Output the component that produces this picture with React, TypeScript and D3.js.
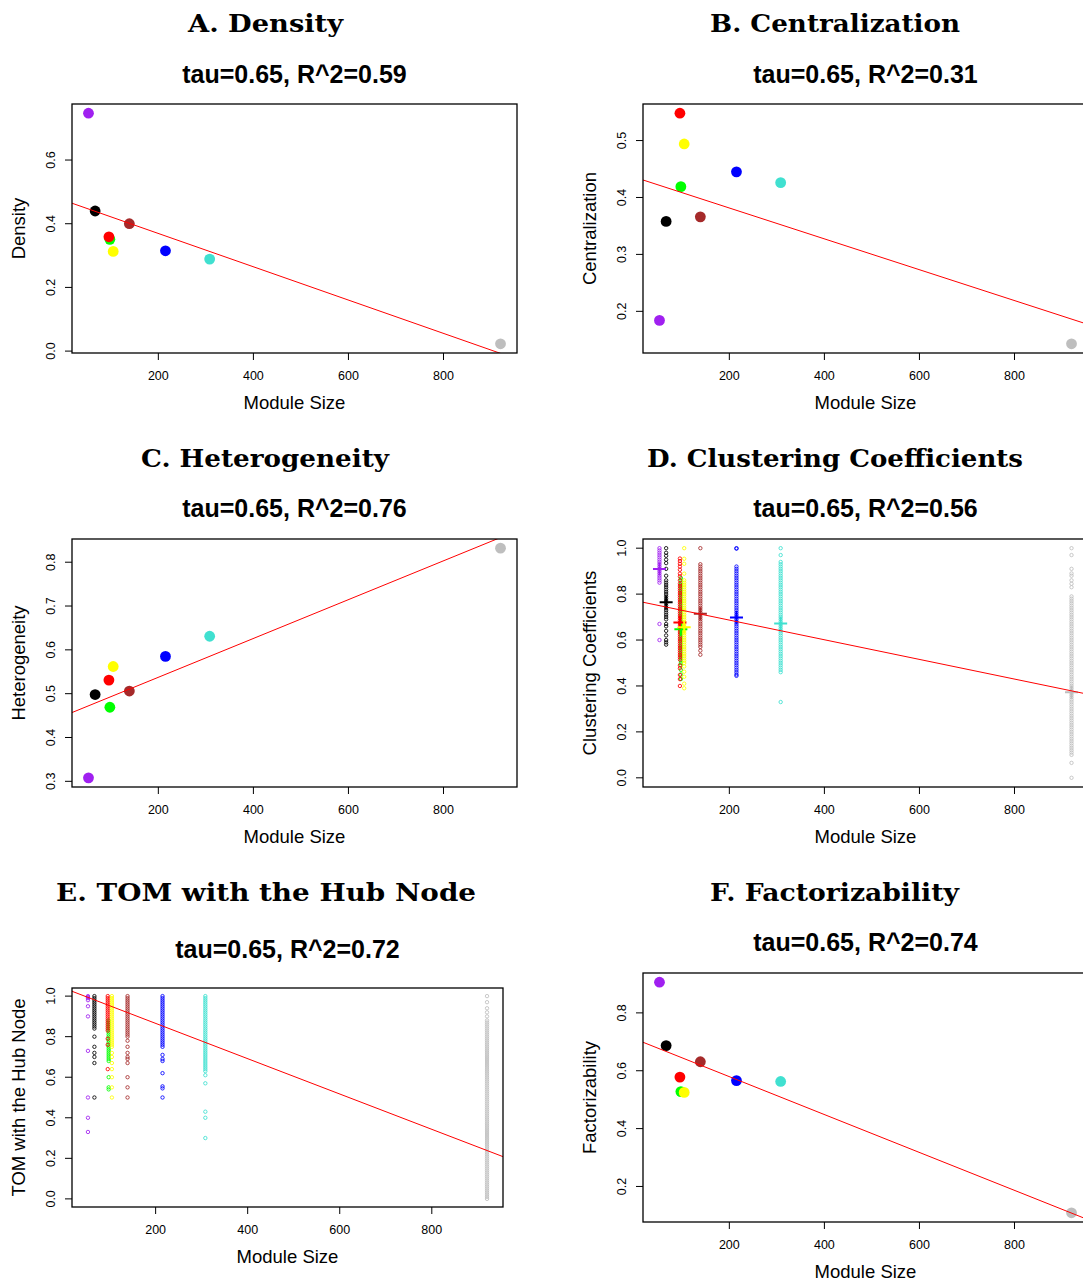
import React from 'react';
import * as d3 from 'd3';

const WIDTH = 1083;
const HEIGHT = 1283;

// modules, listed in the order they get drawn
const moduleNames = ['purple', 'black', 'green', 'red', 'yellow', 'brown', 'blue', 'turquoise', 'grey'];
const moduleColors = ['#A020F0', '#000000', '#00FF00', '#FF0000', '#FFFF00', '#A52A2A', '#0000FF', '#40E0D0', '#BEBEBE'];
const moduleSizes = [53, 67, 98, 96, 105, 139, 215, 308, 920];

// module level statistics
const density = [0.747, 0.44, 0.351, 0.359, 0.313, 0.4, 0.315, 0.289, 0.023];
const centralization = [0.184, 0.358, 0.419, 0.548, 0.494, 0.366, 0.445, 0.426, 0.143];
const heterogeneity = [0.308, 0.498, 0.469, 0.531, 0.562, 0.506, 0.585, 0.631, 0.832];
const factorizability = [0.906, 0.687, 0.528, 0.578, 0.525, 0.631, 0.566, 0.563, 0.109];
const clusteringMeans = [0.909, 0.765, 0.647, 0.676, 0.656, 0.715, 0.698, 0.672, 0.373];

// node level clustering coefficients (distinct visible positions per module)
const ccPurple = [1.0, 0.99, 0.98, 0.97, 0.96, 0.95, 0.94, 0.93, 0.92, 0.91, 0.9, 0.89, 0.88, 0.87, 0.86, 0.85, 0.67, 0.6];
const ccBlack = [1.0, 0.98, 0.967, 0.95, 0.935, 0.91, 0.88, 0.86, 0.85, 0.84, 0.83, 0.82, 0.81, 0.8, 0.79, 0.78, 0.77, 0.76,
  0.75, 0.74, 0.73, 0.72, 0.71, 0.7, 0.69, 0.67, 0.66, 0.64, 0.62, 0.6, 0.59, 0.58];
const ccGreen = [0.87, 0.86, 0.85, 0.84, 0.83, 0.82, 0.81, 0.8, 0.79, 0.78, 0.77, 0.76, 0.75, 0.74, 0.73, 0.72, 0.71, 0.7,
  0.69, 0.68, 0.67, 0.66, 0.65, 0.64, 0.63, 0.62, 0.61, 0.6, 0.59, 0.58, 0.57, 0.56, 0.55, 0.54, 0.53, 0.52, 0.51, 0.5,
  0.49, 0.47, 0.45, 0.43];
const ccRed = [0.955, 0.944, 0.932, 0.92, 0.906, 0.889, 0.877, 0.86, 0.845, 0.835, 0.825, 0.815, 0.805, 0.795, 0.785,
  0.775, 0.765, 0.755, 0.745, 0.735, 0.725, 0.715, 0.705, 0.695, 0.685, 0.675, 0.665, 0.655, 0.645, 0.635, 0.625, 0.615,
  0.605, 0.595, 0.585, 0.575, 0.565, 0.555, 0.545, 0.535, 0.525, 0.515, 0.49, 0.477, 0.448, 0.43, 0.4];
const ccYellow = [1.0, 0.954, 0.932, 0.889, 0.86, 0.85, 0.84, 0.83, 0.82, 0.81, 0.8, 0.79, 0.78, 0.77, 0.76, 0.75, 0.74,
  0.73, 0.72, 0.71, 0.7, 0.69, 0.68, 0.67, 0.66, 0.65, 0.64, 0.63, 0.62, 0.61, 0.6, 0.59, 0.58, 0.57, 0.56, 0.55, 0.54,
  0.53, 0.52, 0.51, 0.5, 0.485, 0.462, 0.44, 0.41, 0.39];
const ccBrown = [1.0, 0.93, 0.92, 0.91, 0.9, 0.89, 0.88, 0.87, 0.86, 0.85, 0.84, 0.83, 0.82, 0.81, 0.8, 0.79, 0.78, 0.77,
  0.76, 0.75, 0.74, 0.73, 0.72, 0.71, 0.7, 0.69, 0.68, 0.67, 0.66, 0.65, 0.64, 0.63, 0.62, 0.61, 0.6, 0.59, 0.58, 0.57,
  0.554, 0.536];
const ccBlue = [1.0, 0.998, 0.92, 0.91, 0.9, 0.89, 0.88, 0.87, 0.86, 0.85, 0.84, 0.83, 0.82, 0.81, 0.8, 0.79, 0.78, 0.77,
  0.76, 0.75, 0.74, 0.73, 0.72, 0.71, 0.7, 0.69, 0.68, 0.67, 0.66, 0.65, 0.64, 0.63, 0.62, 0.61, 0.6, 0.59, 0.58, 0.57,
  0.56, 0.55, 0.54, 0.53, 0.52, 0.51, 0.5, 0.49, 0.48, 0.47, 0.46, 0.45, 0.444];
const ccTurquoise = [1.0, 0.97, 0.94, 0.93, 0.92, 0.91, 0.9, 0.89, 0.88, 0.87, 0.86, 0.85, 0.84, 0.83, 0.82, 0.81, 0.8,
  0.79, 0.78, 0.77, 0.76, 0.75, 0.74, 0.73, 0.72, 0.71, 0.7, 0.69, 0.68, 0.67, 0.66, 0.65, 0.64, 0.63, 0.62, 0.61, 0.6,
  0.59, 0.58, 0.57, 0.56, 0.55, 0.54, 0.53, 0.52, 0.51, 0.5, 0.49, 0.48, 0.47, 0.46, 0.33];
const ccGrey = [1.0, 0.97, 0.91, 0.89, 0.88, 0.86, 0.845, 0.83, 0.79, 0.78, 0.77, 0.76, 0.75, 0.74, 0.73, 0.72, 0.71, 0.7,
  0.69, 0.68, 0.67, 0.66, 0.65, 0.64, 0.63, 0.62, 0.61, 0.6, 0.59, 0.58, 0.57, 0.56, 0.55, 0.54, 0.53, 0.52, 0.51, 0.5,
  0.49, 0.48, 0.47, 0.46, 0.45, 0.44, 0.43, 0.42, 0.41, 0.4, 0.39, 0.38, 0.37, 0.36, 0.35, 0.34, 0.33, 0.32, 0.31, 0.3,
  0.29, 0.28, 0.27, 0.26, 0.25, 0.24, 0.23, 0.22, 0.21, 0.2, 0.19, 0.18, 0.17, 0.16, 0.15, 0.14, 0.13, 0.12, 0.11, 0.1,
  0.065, 0.0];

// node level TOM with the hub node
const tomPurple = [1.0, 0.995, 0.99, 0.98, 0.95, 0.9, 0.73, 0.5, 0.4, 0.33];
const tomBlack = [1.0, 0.99, 0.98, 0.97, 0.96, 0.95, 0.94, 0.93, 0.92, 0.91, 0.9, 0.89, 0.88, 0.87, 0.86, 0.85, 0.84,
  0.8, 0.75, 0.72, 0.7, 0.67, 0.5];
const tomGreen = [0.88, 0.87, 0.86, 0.85, 0.84, 0.83, 0.82, 0.81, 0.8, 0.79, 0.78, 0.77, 0.76, 0.75, 0.74, 0.73, 0.72,
  0.71, 0.7, 0.69, 0.68, 0.6, 0.55, 0.54];
const tomRed = [1.0, 0.99, 0.98, 0.97, 0.96, 0.95, 0.94, 0.93, 0.92, 0.91, 0.9, 0.89, 0.88, 0.87, 0.86, 0.85, 0.84, 0.83,
  0.79, 0.76, 0.64];
const tomYellow = [1.0, 0.99, 0.98, 0.97, 0.96, 0.95, 0.94, 0.93, 0.92, 0.91, 0.9, 0.89, 0.88, 0.87, 0.86, 0.85, 0.84,
  0.83, 0.82, 0.81, 0.8, 0.79, 0.78, 0.77, 0.76, 0.75, 0.72, 0.7, 0.67, 0.64, 0.6, 0.55, 0.5];
const tomBrown = [1.0, 0.99, 0.98, 0.97, 0.96, 0.95, 0.94, 0.93, 0.92, 0.91, 0.9, 0.89, 0.88, 0.87, 0.86, 0.85, 0.84,
  0.83, 0.82, 0.81, 0.8, 0.78, 0.75, 0.72, 0.7, 0.69, 0.67, 0.6, 0.55, 0.5];
const tomBlue = [1.0, 0.99, 0.98, 0.97, 0.96, 0.95, 0.94, 0.93, 0.92, 0.91, 0.9, 0.89, 0.88, 0.87, 0.86, 0.85, 0.84,
  0.83, 0.82, 0.81, 0.8, 0.79, 0.78, 0.77, 0.76, 0.75, 0.71, 0.69, 0.68, 0.62, 0.555, 0.545, 0.5];
const tomTurquoise = [1.0, 0.99, 0.98, 0.97, 0.96, 0.95, 0.94, 0.93, 0.92, 0.91, 0.9, 0.89, 0.88, 0.87, 0.86, 0.85,
  0.84, 0.83, 0.82, 0.81, 0.8, 0.79, 0.78, 0.77, 0.76, 0.75, 0.74, 0.73, 0.72, 0.71, 0.7, 0.69, 0.68, 0.67, 0.66, 0.65,
  0.64, 0.63, 0.61, 0.57, 0.43, 0.4, 0.3];
const tomGrey = [1.0, 0.97, 0.94, 0.92, 0.9, 0.88, 0.87, 0.86, 0.85, 0.84, 0.83, 0.82, 0.81, 0.8, 0.79, 0.78, 0.77,
  0.76, 0.75, 0.74, 0.73, 0.72, 0.71, 0.7, 0.69, 0.68, 0.67, 0.66, 0.65, 0.64, 0.63, 0.62, 0.61, 0.6, 0.59, 0.58, 0.57,
  0.56, 0.55, 0.54, 0.53, 0.52, 0.51, 0.5, 0.49, 0.48, 0.47, 0.46, 0.45, 0.44, 0.43, 0.42, 0.41, 0.4, 0.39, 0.38, 0.37,
  0.36, 0.35, 0.34, 0.33, 0.32, 0.31, 0.3, 0.29, 0.28, 0.27, 0.26, 0.25, 0.24, 0.23, 0.22, 0.21, 0.2, 0.19, 0.18, 0.17,
  0.16, 0.15, 0.14, 0.13, 0.12, 0.11, 0.1, 0.09, 0.08, 0.07, 0.06, 0.05, 0.04, 0.03, 0.02, 0.01, 0.0];

const clusteringColumns = [ccPurple, ccBlack, ccGreen, ccRed, ccYellow, ccBrown, ccBlue, ccTurquoise, ccGrey];
const tomColumns = [tomPurple, tomBlack, tomGreen, tomRed, tomYellow, tomBrown, tomBlue, tomTurquoise, tomGrey];

// regression lines: [intercept, slope]
const densityFit = [0.474, -0.000523];
const centralizationFit = [0.4357, -0.000271];
const heterogeneityFit = [0.4488, 0.000443];
const clusteringFit = [0.7724, -0.000428];
const tomFit = [1.0398, -0.000871];
const factorizabilityFit = [0.7105, -0.000655];

// tick labels
const sizeTicks = [200, 400, 600, 800];
const densityTicks = [0.0, 0.2, 0.4, 0.6];
const centralizationTicks = [0.2, 0.3, 0.4, 0.5];
const heterogeneityTicks = [0.3, 0.4, 0.5, 0.6, 0.7, 0.8];
const unitTicks = [0.0, 0.2, 0.4, 0.6, 0.8, 1.0];
const factorizabilityTicks = [0.2, 0.4, 0.6, 0.8];

const SANS = "'Liberation Sans', Arial, Helvetica, sans-serif";
const SERIF = "'DejaVu Serif', serif";

// R style axis range: data extent widened by 4% on each side
const padExtent = (vals) => {
  const [lo, hi] = d3.extent(vals);
  const d = (hi - lo) * 0.04;
  return [lo - d, hi + d];
};

const fmt = d3.format('.1f');

const panels = [
  { id: 'A', title: 'A. Density', titleW: 155, sub: 'tau=0.65, R^2=0.59', ylab: 'Density', values: density,
    fit: densityFit, ticks: densityTicks, box: [72, 104, 517, 353], titleX: 265.5, titleY: 32, subY: 83 },
  { id: 'B', title: 'B. Centralization', titleW: 250, sub: 'tau=0.65, R^2=0.31', ylab: 'Centralization',
    values: centralization, fit: centralizationFit, ticks: centralizationTicks, box: [643, 104, 1088, 353],
    titleX: 835, titleY: 32, subY: 83 },
  { id: 'C', title: 'C. Heterogeneity', titleW: 248, sub: 'tau=0.65, R^2=0.76', ylab: 'Heterogeneity',
    values: heterogeneity, fit: heterogeneityFit, ticks: heterogeneityTicks, box: [72, 539, 517, 787],
    titleX: 265, titleY: 467, subY: 517 },
  { id: 'D', title: 'D. Clustering Coefficients', titleW: 376, sub: 'tau=0.65, R^2=0.56',
    ylab: 'Clustering Coefficients', columns: clusteringColumns, means: clusteringMeans, fit: clusteringFit,
    ticks: unitTicks, box: [643, 539, 1088, 787], titleX: 835, titleY: 467, subY: 517 },
  { id: 'E', title: 'E. TOM with the Hub Node', titleW: 420, sub: 'tau=0.65, R^2=0.72', ylab: 'TOM with the Hub Node',
    columns: tomColumns, fit: tomFit, ticks: unitTicks, box: [72, 988, 503, 1207], titleX: 266, titleY: 901, subY: 958 },
  { id: 'F', title: 'F. Factorizability', titleW: 249, sub: 'tau=0.65, R^2=0.74', ylab: 'Factorizability',
    values: factorizability, fit: factorizabilityFit, ticks: factorizabilityTicks, box: [643, 973, 1088, 1222],
    titleX: 834.5, titleY: 901, subY: 951 },
];

const Panel = ({ p }) => {
  const [left, top, right, bottom] = p.box;
  const x = d3.scaleLinear().domain(padExtent(moduleSizes)).range([left, right]);
  const yVals = p.columns ? p.columns.flat() : p.values;
  const y = d3.scaleLinear().domain(padExtent(yVals)).range([bottom, top]);
  const [x0, x1] = x.domain();
  const line = d3.line()([[x(x0), y(p.fit[0] + p.fit[1] * x0)], [x(x1), y(p.fit[0] + p.fit[1] * x1)]]);
  const clipId = `clip-${p.id}`;

  return (
    <g>
      <defs>
        <clipPath id={clipId}>
          <rect x={left} y={top} width={right - left} height={bottom - top} />
        </clipPath>
      </defs>
      <text x={p.titleX} y={p.titleY} textAnchor="middle" fontFamily={SERIF} fontWeight="bold" fontSize={23.5}
        textLength={p.titleW} lengthAdjust="spacingAndGlyphs">
        {p.title}
      </text>
      <text x={(left + right) / 2} y={p.subY} textAnchor="middle" fontFamily={SANS} fontWeight="bold" fontSize={25}>
        {p.sub}
      </text>

      <g clipPath={`url(#${clipId})`}>
        {p.columns && p.columns.map((col, i) => (
          <g key={moduleNames[i]} stroke={moduleColors[i]} fill="none" strokeWidth={1} strokeOpacity={0.85}>
            {col.map((v, j) => (
              <circle key={j} cx={x(moduleSizes[i])} cy={y(v)} r={1.7} />
            ))}
          </g>
        ))}
        {p.values && p.values.map((v, i) => (
          <circle key={moduleNames[i]} cx={x(moduleSizes[i])} cy={y(v)} r={5.4} fill={moduleColors[i]} />
        ))}
        {p.means && p.means.map((v, i) => (
          <path key={moduleNames[i]}
            d={`M${x(moduleSizes[i]) - 6.5},${y(v)}h13M${x(moduleSizes[i])},${y(v) - 6.5}v13`}
            stroke={moduleColors[i]} strokeWidth={2} fill="none" />
        ))}
        <path d={line} stroke="#FF0000" strokeWidth={1} fill="none" />
      </g>

      <rect x={left} y={top} width={right - left} height={bottom - top} fill="none" stroke="#000" strokeWidth={1.3} />

      {sizeTicks.map((t) => (
        <g key={t}>
          <line x1={x(t)} x2={x(t)} y1={bottom} y2={bottom + 7} stroke="#000" />
          <text x={x(t)} y={bottom + 27} textAnchor="middle" fontFamily={SANS} fontSize={12.5}>{t}</text>
        </g>
      ))}
      {p.ticks.map((t) => (
        <g key={t}>
          <line x1={left - 7} x2={left} y1={y(t)} y2={y(t)} stroke="#000" />
          <text transform={`translate(${left - 17},${y(t)}) rotate(-90)`} textAnchor="middle" fontFamily={SANS}
            fontSize={12.5}>{fmt(t)}</text>
        </g>
      ))}

      <text x={(left + right) / 2} y={bottom + 56} textAnchor="middle" fontFamily={SANS} fontSize={18.5}>
        Module Size
      </text>
      <text transform={`translate(${left - 47.5},${(top + bottom) / 2}) rotate(-90)`} textAnchor="middle"
        fontFamily={SANS} fontSize={18.5}>
        {p.ylab}
      </text>
    </g>
  );
};

export default function App() {
  return (
    <svg width={WIDTH} height={HEIGHT} style={{ position: 'absolute', left: 0, top: 0, display: 'block', background: '#fff' }}>
      <rect width={WIDTH} height={HEIGHT} fill="#fff" />
      {panels.map((p) => <Panel key={p.id} p={p} />)}
    </svg>
  );
}
